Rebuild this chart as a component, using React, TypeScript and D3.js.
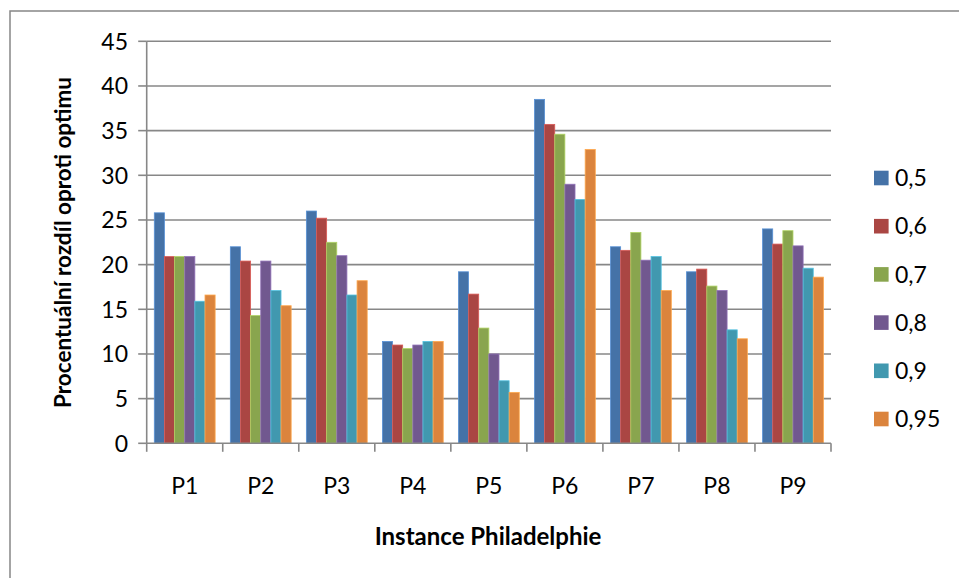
import React from "react";
import * as d3 from "d3";

const categories = ["P1", "P2", "P3", "P4", "P5", "P6", "P7", "P8", "P9"];
const seriesNames = ["0,5", "0,6", "0,7", "0,8", "0,9", "0,95"];
const s05 = [25.8, 22.0, 26.0, 11.4, 19.2, 38.5, 22.0, 19.2, 24.0];
const s06 = [20.9, 20.4, 25.2, 11.0, 16.7, 35.7, 21.6, 19.5, 22.3];
const s07 = [20.9, 14.3, 22.5, 10.6, 12.9, 34.6, 23.6, 17.6, 23.8];
const s08 = [20.9, 20.4, 21.0, 11.0, 10.0, 29.0, 20.5, 17.1, 22.1];
const s09 = [15.9, 17.1, 16.6, 11.4, 7.0, 27.3, 20.9, 12.7, 19.6];
const s095 = [16.6, 15.4, 18.2, 11.4, 5.7, 32.9, 17.1, 11.7, 18.6];
const seriesValues = [s05, s06, s07, s08, s09, s095];
const colors = ["#4572A7", "#AA4643", "#89A54E", "#71588F", "#4198AF", "#DB843D"];
const yTicks = [0, 5, 10, 15, 20, 25, 30, 35, 40, 45];

const W = 959;
const H = 578;
const left = 146.7;
const right = 831;
const top = 41.3;
const bottom = 443.3;
const font = "Lato, 'Open Sans', sans-serif";

export default function App() {
  const y = d3.scaleLinear().domain([0, 45]).range([bottom, top]);
  const x0 = d3.scaleBand<string>().domain(categories).range([left, right]).padding(0);
  const x1 = d3
    .scaleBand<string>()
    .domain(seriesNames)
    .range([0, x0.bandwidth()])
    .paddingInner(0)
    .paddingOuter(0.75);
  const grid = "#878787";

  return (
    <svg width={W} height={H} style={{ position: "absolute", left: 0, top: 0 }}>
      <rect x={0} y={0} width={W} height={H} fill="#fff" />
      <rect x={10} y={11} width={W + 20} height={H + 20} fill="none" stroke={grid} strokeWidth={1.5} />
      {yTicks.slice(1).map((t) => (
        <line key={"g" + t} x1={left} x2={right} y1={y(t)} y2={y(t)} stroke={grid} strokeWidth={1.6} />
      ))}
      {categories.map((c, ci) => (
        <g key={c}>
          {seriesNames.map((s, si) => {
            const v = seriesValues[si][ci];
            const bx = (x0(c) as number) + (x1(s) as number);
            const col = colors[si];
            return (
              <rect
                key={s}
                x={bx}
                y={y(v)}
                width={x1.bandwidth()}
                height={y(0) - y(v)}
                fill={col}
                stroke={d3.color(col)!.brighter(0.7).formatHex()}
                strokeWidth={0.8}
              />
            );
          })}
        </g>
      ))}
      <line x1={left} x2={left} y1={top} y2={bottom} stroke={grid} strokeWidth={1.6} />
      <line x1={left} x2={right} y1={bottom} y2={bottom} stroke={grid} strokeWidth={1.6} />
      {yTicks.map((t) => (
        <g key={"t" + t}>
          <line x1={left - 8.5} x2={left} y1={y(t)} y2={y(t)} stroke={grid} strokeWidth={1.6} />
          <text
            x={128}
            y={y(t)}
            dy="0.36em"
            textAnchor="end"
            fontFamily={font}
            fontSize={23}
            fill="#000"
          >
            {t}
          </text>
        </g>
      ))}
      {[...categories.map((c) => x0(c) as number), right].map((xv, i) => (
        <line key={"xt" + i} x1={xv} x2={xv} y1={bottom} y2={bottom + 8.5} stroke={grid} strokeWidth={1.6} />
      ))}
      {categories.map((c) => (
        <text
          key={"l" + c}
          x={(x0(c) as number) + x0.bandwidth() / 2}
          y={494}
          textAnchor="middle"
          fontFamily={font}
          fontSize={23}
          fill="#000"
        >
          {c}
        </text>
      ))}
      <text x={488} y={545} textAnchor="middle" fontFamily={font} fontSize={24} fontWeight="bold" fill="#000">
        Instance Philadelphie
      </text>
      <text
        transform={`translate(71, 242.5) rotate(-90)`}
        textAnchor="middle"
        fontFamily={font}
        fontSize={22.5}
        fontWeight="bold"
        fill="#000"
      >
        Procentuální rozdíl oproti optimu
      </text>
      {seriesNames.map((s, i) => {
        const cy = 178 + i * 48.2;
        return (
          <g key={"lg" + s}>
            <rect x={874} y={cy - 7.3} width={14.6} height={14.6} fill={colors[i]} />
            <text x={895} y={cy} dy="0.36em" fontFamily={font} fontSize={23} fill="#000">
              {s}
            </text>
          </g>
        );
      })}
    </svg>
  );
}
